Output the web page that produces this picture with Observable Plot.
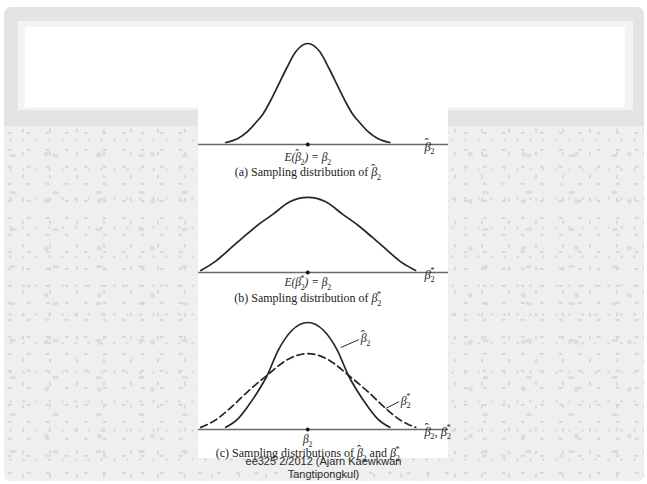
<!DOCTYPE html>
<html><head><meta charset="utf-8">
<script src="https://cdn.jsdelivr.net/npm/d3@7"></script>
<script src="https://cdn.jsdelivr.net/npm/@observablehq/plot@0.6"></script>
<style>
html,body{margin:0;padding:0;background:#fff}
body{width:647px;height:484px;overflow:hidden;position:relative;font-family:"Liberation Sans",Arial,sans-serif}
#frame{position:absolute;left:4px;top:7px;width:640px;height:474px;background:#e4e4e4;border-radius:7px}
#texture{position:absolute;left:4px;top:126px;width:640px;height:355px;background-color:#efefef;border-radius:0 0 7px 7px;
 background-image:
  radial-gradient(ellipse 2.5px 1.4px at 30% 40%,#d7d7d7 65%,transparent 100%),
  radial-gradient(ellipse 1.4px 2.6px at 70% 20%,#d9d9d9 65%,transparent 100%),
  radial-gradient(circle 1.6px at 50% 50%,#dadada 60%,transparent 100%),
  radial-gradient(ellipse 4px 2px at 20% 80%,#dcdcdc 65%,transparent 100%),
  radial-gradient(ellipse 3px 3px at 80% 60%,#dddddd 60%,transparent 100%);
 background-size:19px 17px,27px 23px,13px 29px,43px 37px,53px 47px}
#titlebox{position:absolute;left:18px;top:21px;width:615px;height:89px;background:#f3f3f3}
#titleinner{position:absolute;left:25px;top:27px;width:600px;height:80px;background:#fff}
#fig{position:absolute;left:198px;top:106px;width:250px;height:352px;background:#fff}
.panel{position:absolute;left:198px}
.panel svg{overflow:visible}
#footer{position:absolute;left:0;width:647px;top:455px;text-align:center;font-size:11px;line-height:13px;color:#2a2a2a}
</style></head>
<body>
<div id="frame"></div>
<div id="texture"></div>
<div id="titlebox"></div>
<div id="titleinner"></div>
<div id="fig"></div>
<div id="pa" class="panel" style="top:35px"></div>
<div id="pb" class="panel" style="top:180px"></div>
<div id="pc" class="panel" style="top:308px"></div>
<div id="footer">ee325 2/2012 (Ajarn Kaewkwan<br>Tangtipongkul)</div>
<script>
// ---- data ----
const xDomain = [-3.7, 3.75];

// (a) sampling distribution of beta-hat
const curveA_x = [-2.83,-2.41,-2.07,-1.78,-1.55,-1.29,-1.03,-0.74,-0.41,0,0.41,0.74,1.03,1.29,1.55,1.78,2.07,2.41,2.83];
const curveA_y = [0.02,0.06,0.13,0.22,0.30,0.43,0.58,0.75,0.92,1.0,0.92,0.75,0.58,0.43,0.30,0.22,0.13,0.06,0.02];

// (b) sampling distribution of beta-star
const curveB_x = [-3.69,-3.21,-2.76,-2.24,-1.72,-1.21,-0.62,0,0.62,1.21,1.72,2.24,2.76,3.21,3.72];
const curveB_y = [0.02,0.105,0.215,0.345,0.47,0.575,0.70,0.743,0.70,0.575,0.47,0.345,0.215,0.105,0.02];

// (c) both distributions
const curveCs_x = [-2.83,-2.41,-2.07,-1.72,-1.41,-1.02,-0.55,0,0.55,1.02,1.41,1.72,2.07,2.41,2.83];
const curveCs_y = [0.02,0.10,0.215,0.355,0.50,0.74,0.925,1.0,0.925,0.74,0.50,0.355,0.215,0.10,0.02];
const curveCd_x = [-3.69,-3.21,-2.69,-2.07,-1.41,-0.69,0,0.69,1.41,2.07,2.69,3.21,3.72];
const curveCd_y = [0.02,0.084,0.196,0.355,0.505,0.655,0.71,0.655,0.505,0.355,0.196,0.084,0.02];

// labels (#h = beta-hat sub 2, #b = beta sub 2, #s = beta sub 2 star)
const axisLabels = ["#h", "#s", "#h, #s"];
const meanLabels = ["E(#h) = #b", "E(#s) = #b", "#b"];
const captions = ["(a) Sampling distribution of #h", "(b) Sampling distribution of #s", "(c) Sampling distributions of #h and #s"];
const meanDy = [13, 10, 10];
const captionDy = [28, 26, 24];
const leaderNames = ["#h", "#s"];
const leaderX1 = [1.14, 2.69], leaderY1 = [0.766, 0.196];
const leaderX2 = [1.76, 3.14], leaderY2 = [0.84, 0.26];

// ---- build ----
const zipXY = (xs, ys) => xs.map((x, i) => ({x, y: ys[i]}));
const serif = "'Liberation Serif','DejaVu Serif',serif";
const ink = "#262626";

// turn #h/#b/#s tokens into beta symbols with hat, subscript and star
function richify(svg) {
  d3.select(svg).selectAll("text").each(function() {
    const t = this.textContent;
    if (!/#[hbs]/.test(t)) return;
    const fs = parseFloat(getComputedStyle(this).fontSize) || 12;
    const sel = d3.select(this);
    sel.text(null);
    let cur = 0;
    const add = (txt, o = {}) => {
      const ts = sel.append("tspan").text(txt);
      const dy = (o.dy ?? 0);
      if (o.dx) ts.attr("dx", o.dx);
      if (dy) ts.attr("dy", dy);
      cur += dy;
      if (o.size) ts.attr("font-size", o.size);
      if (o.italic) ts.attr("font-style", "italic");
      if (o.normal) ts.attr("font-style", "normal");
    };
    for (const p of t.split(/(#[hbs])/)) {
      if (!p) continue;
      if (p[0] === "#") {
        add("β", {dy: -cur, italic: true});
        if (p === "#h") {
          add("ˆ", {dx: -0.5 * fs, dy: -0.3 * fs, normal: true});
          add("2", {dx: 0.12 * fs, dy: 0.6 * fs, size: 0.68 * fs, normal: true});
        } else {
          add("2", {dx: -0.02 * fs, dy: 0.3 * fs, size: 0.68 * fs, normal: true});
          if (p === "#s") add("*", {dx: -0.36 * fs, dy: -0.72 * fs, size: 0.68 * fs, normal: true});
        }
      } else {
        add(p, {dy: -cur});
      }
    }
  });
}

function panel(el, {height, yZero, unit, curves, i, extra = []}) {
  const marks = [
    Plot.ruleY([0], {stroke: "#6a6a6a", strokeWidth: 1.4}),
    ...curves.map(c => Plot.line(c.data, {x: "x", y: "y", curve: "monotone-x", stroke: ink, strokeWidth: 1.7, strokeDasharray: c.dash})),
    Plot.dot([0], {x: d => d, y: () => 0, r: 1.9, fill: "#111", stroke: "none"}),
    Plot.text([axisLabels[i]], {x: () => xDomain[1], y: () => 0, text: d => d, textAnchor: "start", dx: 8, dy: 2, fontFamily: serif, fontSize: 12.5, fill: ink}),
    Plot.text([meanLabels[i]], {x: () => 0, y: () => 0, text: d => d, dy: meanDy[i], fontFamily: serif, fontStyle: "italic", fontSize: 11.5, fill: ink}),
    Plot.text([captions[i]], {x: () => 0, y: () => 0, text: d => d, dy: captionDy[i], fontFamily: serif, fontSize: 12, fill: "#222"}),
    ...extra
  ];
  const chart = Plot.plot({
    width: 250, height,
    margin: 0,
    x: {domain: xDomain, range: [2, 218], axis: null},
    y: {domain: [0, 1], range: [yZero, yZero - unit], axis: null},
    style: {background: "transparent", overflow: "visible"},
    marks
  });
  document.getElementById(el).append(chart);
  richify(chart);
}

panel("pa", {height: 145, yZero: 109, unit: 101, i: 0,
  curves: [{data: zipXY(curveA_x, curveA_y)}]});
panel("pb", {height: 128, yZero: 92, unit: 101, i: 1,
  curves: [{data: zipXY(curveB_x, curveB_y)}]});

const leaders = leaderNames.map((n, k) => ({n, x1: leaderX1[k], y1: leaderY1[k], x2: leaderX2[k], y2: leaderY2[k]}));
panel("pc", {height: 157, yZero: 121, unit: 107, i: 2,
  curves: [{data: zipXY(curveCs_x, curveCs_y)}, {data: zipXY(curveCd_x, curveCd_y), dash: "7,4"}],
  extra: [
    Plot.link(leaders, {x1: "x1", y1: "y1", x2: "x2", y2: "y2", stroke: ink, strokeWidth: 1}),
    Plot.text(leaders, {x: "x2", y: "y2", text: "n", textAnchor: "start", dx: 2, dy: -1, fontFamily: serif, fontSize: 12, fill: ink})
  ]});
</script>
</body></html>
